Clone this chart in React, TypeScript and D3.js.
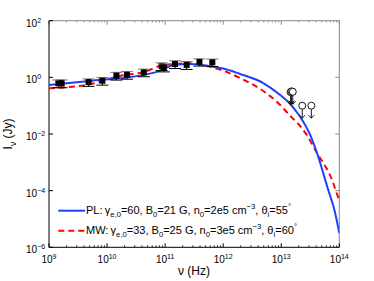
import React from 'react';
import * as d3 from 'd3';

// observed flux densities (Hz, Jy) and symmetric errors
const obsNu = [1.45e9, 1.65e9, 4.8e9, 8.3e9, 1.45e10, 2.2e10, 4.3e10, 8.7e10, 9.5e10, 1.48e11, 2.35e11, 3.9e11, 6.5e11];
const obsI = [0.62, 0.62, 0.68, 0.76, 1.15, 1.23, 1.5, 2.5, 2.26, 2.95, 2.75, 3.5, 3.4];
const obsErr = [0.19, 0.19, 0.2, 0.23, 0.35, 0.37, 0.45, 0.75, 0.7, 0.9, 0.85, 1.0, 1.0];

// upper limits in the IR
const limNu = [1.45e13, 1.5e13, 1.58e13, 2.3e13, 3.3e13];
const limI = [0.3, 0.32, 0.31, 0.1, 0.1];

// PL model
const plNu = [1e9, 5.5e9, 4.6e10, 8.1e10, 1.4e11, 2.7e11, 7.2e11, 1e12, 1.95e12, 4.9e12, 9.6e12, 1.43e13, 1.9e13, 2.3e13, 3.15e13, 4.13e13, 6.2e13, 8.5e13, 1e14];
const plI = [0.54, 0.76, 1.25, 1.7, 2.75, 2.95, 2.32, 2.05, 1.32, 0.63, 0.238, 0.115, 0.0552, 0.0313, 9.3e-3, 2.14e-3, 1.38e-4, 1.6e-5, 3.2e-6];

// MW model
const mwNu = [1e9, 5.5e9, 1.66e10, 4.6e10, 8.1e10, 2.7e11, 7.2e11, 1e12, 1.95e12, 4.9e12, 9.6e12, 1.43e13, 1.9e13, 2.6e13, 4.13e13, 7.5e13, 9.7e13, 1e14];
const mwI = [0.41, 0.59, 1.12, 1.6, 2.5, 3.1, 2.14, 1.72, 0.95, 0.33, 0.106, 0.0432, 0.0245, 0.0109, 2.14e-3, 2.4e-4, 5.5e-5, 4.8e-5];

const xTicks = [9, 10, 11, 12, 13, 14];
const yTicks = [-6, -4, -2, 0, 2];

const font = '"Liberation Sans", Arial, sans-serif';

type Seg = [string, number];

const Rich = ({ x, y, segs, size, anchor = 'start' }: { x: number; y: number; segs: Seg[]; size: number; anchor?: string }) => {
  let cur = 0;
  return (
    <text x={x} y={y} fontSize={size} textAnchor={anchor} fontFamily={font}>
      {segs.map(([t, s], i) => {
        const target = s === 1 ? size * 0.3 : s === -1 ? -size * 0.4 : 0;
        const dy = target - cur;
        cur = target;
        return (
          <tspan key={i} dy={dy} fontSize={s ? size * 0.7 : size}>
            {t}
          </tspan>
        );
      })}
    </text>
  );
};

const App = () => {
  const W = 374;
  const H = 281;
  const m = { left: 49, top: 20.7, right: 339.3, bottom: 247.3 };

  const x = d3.scaleLog().domain([1e9, 1e14]).range([m.left, m.right]);
  const y = d3.scaleLog().domain([1e-6, 1e2]).range([m.bottom, m.top]);

  const line = d3
    .line<[number, number]>()
    .x(d => x(d[0]))
    .y(d => y(d[1]))
    .curve(d3.curveMonotoneX);

  const plPath = line(plNu.map((n, i) => [n, plI[i]]));
  const mwPath = line(mwNu.map((n, i) => [n, mwI[i]]));

  const minor: number[] = [];
  xTicks.slice(0, -1).forEach(p => {
    for (let k = 2; k < 10; k++) minor.push(k * Math.pow(10, p));
  });

  const cap = 6;

  return (
    <svg width={W} height={H} style={{ position: 'absolute', left: 0, top: 0, background: '#fff' }}>
      <defs>
        <clipPath id="plot">
          <rect x={m.left} y={m.top} width={m.right - m.left} height={m.bottom - m.top} />
        </clipPath>
      </defs>

      {/* frame */}
      <line x1={m.left} x2={m.right} y1={m.top} y2={m.top} stroke="#888" />
      <line x1={m.right} x2={m.right} y1={m.top} y2={m.bottom} stroke="#888" />

      {/* x ticks */}
      {minor.map((v, i) => (
        <g key={'mn' + i}>
          <line x1={x(v)} x2={x(v)} y1={m.bottom} y2={m.bottom - 2} stroke="#000" strokeWidth={0.8} />
          <line x1={x(v)} x2={x(v)} y1={m.top} y2={m.top + 2} stroke="#888" strokeWidth={0.8} />
        </g>
      ))}
      {xTicks.map(p => (
        <g key={'xt' + p}>
          <line x1={x(Math.pow(10, p))} x2={x(Math.pow(10, p))} y1={m.bottom} y2={m.bottom - 4} stroke="#000" />
          <line x1={x(Math.pow(10, p))} x2={x(Math.pow(10, p))} y1={m.top} y2={m.top + 4} stroke="#888" />
          <Rich x={x(Math.pow(10, p))} y={262.7} size={10} anchor="middle" segs={[['10', 0], [String(p), -1]]} />
        </g>
      ))}

      {/* y ticks */}
      {yTicks.map(p => (
        <g key={'yt' + p}>
          <line x1={m.left} x2={m.left + 4} y1={y(Math.pow(10, p))} y2={y(Math.pow(10, p))} stroke="#000" />
          <line x1={m.right} x2={m.right - 4} y1={y(Math.pow(10, p))} y2={y(Math.pow(10, p))} stroke="#888" />
          <Rich x={26} y={y(Math.pow(10, p)) + 6} size={10} segs={[['10', 0], [p < 0 ? '\u2212' + -p : String(p), -1]]} />
        </g>
      ))}

      <line x1={m.left} x2={m.left} y1={m.top} y2={m.bottom} stroke="#000" />
      <line x1={m.left} x2={m.right} y1={m.bottom} y2={m.bottom} stroke="#000" />

      <g clipPath="url(#plot)">
        <path d={mwPath || ''} fill="none" stroke="#ff0000" strokeWidth={2} strokeDasharray="6,4" />
        <path d={plPath || ''} fill="none" stroke="#1f3fff" strokeWidth={2} />
      </g>

      {/* data with error bars */}
      {obsNu.map((n, i) => {
        const cx = x(n);
        const yt = y(obsI[i] + obsErr[i]);
        const yb = y(obsI[i] - obsErr[i]);
        return (
          <g key={'o' + i}>
            <line x1={cx} x2={cx} y1={yt} y2={yb} stroke="#000" />
            <line x1={cx - cap} x2={cx + cap} y1={yt} y2={yt} stroke="#777" />
            <line x1={cx - cap} x2={cx + cap} y1={yb} y2={yb} stroke="#000" />
            <rect x={cx - 3} y={y(obsI[i]) - 3} width={6} height={6} fill="#000" />
          </g>
        );
      })}

      {/* upper limits */}
      {limNu.map((n, i) => {
        const cx = x(n);
        const cy = y(limI[i]);
        return (
          <g key={'l' + i} stroke="#000" fill="none" strokeWidth={0.9}>
            <circle cx={cx} cy={cy} r={3.5} fill="#fff" />
            <line x1={cx} x2={cx} y1={cy + 3.5} y2={cy + 12.5} />
            <polyline points={`${cx - 2.8},${cy + 9.5} ${cx},${cy + 12.5} ${cx + 2.8},${cy + 9.5}`} />
          </g>
        );
      })}

      {/* legend */}
      <line x1={58.3} x2={85} y1={210.7} y2={210.7} stroke="#1f3fff" strokeWidth={2} />
      <Rich
        x={86}
        y={213.8}
        size={11}
        segs={[
          ['PL:\u2009\u03b3', 0], ['e,0', 1], ['=60, B', 0], ['0', 1], ['=21 G, n', 0], ['0', 1],
          ['=2e5 cm', 0], ['\u22123', -1], [', \u03b8', 0], ['i', 1], ['=55', 0], ['\u00b0', -1],
        ]}
      />
      <line x1={58.3} x2={85} y1={230.7} y2={230.7} stroke="#ff0000" strokeWidth={2} strokeDasharray="6,4" />
      <Rich
        x={86}
        y={233.8}
        size={11}
        segs={[
          ['MW:\u2009\u03b3', 0], ['e,0', 1], ['=33, B', 0], ['0', 1], ['=25 G, n', 0], ['0', 1],
          ['=3e5 cm', 0], ['\u22123', -1], [', \u03b8', 0], ['i', 1], ['=60', 0], ['\u00b0', -1],
        ]}
      />

      {/* axis labels */}
      <Rich x={194} y={275} size={12} anchor="middle" segs={[['\u03bd (Hz)', 0]]} />
      <g transform={`translate(12,${(m.top + m.bottom) / 2}) rotate(-90)`}>
        <Rich x={0} y={0} size={12} anchor="middle" segs={[['I', 0], ['\u03bd', 1], [' (Jy)', 0]]} />
      </g>
    </svg>
  );
};

export default App;
